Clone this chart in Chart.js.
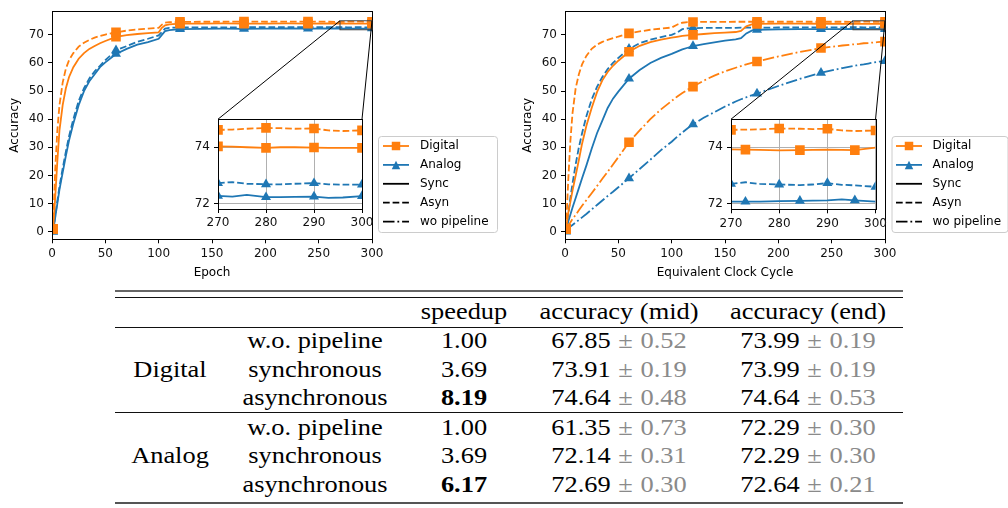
<!DOCTYPE html>
<html><head><meta charset="utf-8">
<script src="https://cdn.jsdelivr.net/npm/chart.js@4.4.1/dist/chart.umd.min.js"></script>
<style>
html,body{margin:0;padding:0;background:#fff;}
#wrap{position:relative;width:1008px;height:508px;overflow:hidden;background:#fff;}
#wrap canvas{position:absolute;}
.tb{position:absolute;font-family:"Liberation Serif","Times New Roman",serif;font-size:24px;line-height:1;color:#000;white-space:nowrap;transform:translateX(-50%) scaleX(1.1);transform-origin:50% 50%;}
.g{color:#8a8a8a;}
.pm{margin:0 1px;}
.rule{position:absolute;left:115px;width:788px;}
</style></head>
<body><div id="wrap">
<canvas id="mainL" width="505" height="290" style="left:0px;top:0px;width:505px;height:290px"></canvas>
<canvas id="mainR" width="503" height="290" style="left:505px;top:0px;width:503px;height:290px"></canvas>
<canvas id="insL" width="190" height="130" style="left:188px;top:108px;width:190px;height:130px"></canvas>
<canvas id="insR" width="190" height="130" style="left:700px;top:108px;width:190px;height:130px"></canvas>
<div id="table"></div>
</div>
<script>
// ---------------- data ----------------
const EPOCH = [1,3,5,7,10,13,16,20,25,30,35,40,45,50,60,70,80,90,100,103,106,110,120,140,160,180,200,220,240,260,270,273,276,280,283,286,290,293,296,300];
const DIG_SYNC_EP = [1,12,25,36,45,51,55,58.5,61.5,63.5,65,66,67,67.8,69.3,69.9,70.3,70.6,70.9,72.5,73.4,73.7,74.0,74.0,74.05,74.0,74.0,74.05,74.0,74.02,74.03,74.02,74.0,73.98,74.0,74.0,73.99,73.98,73.98,73.98];
const DIG_ASYN_EP = [1,22,36,45,53,58,61,63.5,65.8,67.2,68.2,69,69.6,70.1,70.9,71.5,71.9,72.2,72.5,73.6,74.3,74.5,74.6,74.65,74.65,74.7,74.65,74.7,74.7,74.65,74.62,74.63,74.66,74.69,74.68,74.66,74.67,74.6,74.58,74.6];
const ANA_SYNC_EP = [0,5,10,15,21,27,32.5,38.5,45,50,53.5,56,58.5,60.2,63.2,65,66.5,67.4,68.6,70,71.3,71.7,72.0,72.1,72.2,72.15,72.2,72.25,72.2,72.25,72.27,72.24,72.3,72.22,72.22,72.23,72.24,72.2,72.21,72.26];
const ANA_ASYN_EP = [0,5.5,11,16,22.5,28.5,34,40,46.5,51,54.5,57,59,61,64.5,66,67.5,68.6,69.8,71,72.2,72.5,72.6,72.65,72.65,72.7,72.7,72.7,72.72,72.7,72.72,72.76,72.7,72.68,72.68,72.7,72.72,72.68,72.67,72.67];

const CYCLE = [1,3,5,7,10,13,16,20,25,30,35,40,45,50,60,70,80,90,100,105,110,115,120,130,140,150,160,165,170,175,180,200,220,240,260,270,273,276,280,284.3,287,290,293,295.7,300];
const DIG_SYNC_CY = [1,6.6,10.5,14.5,20,25.5,31.3,37.6,44,49.6,53.8,56.8,59,60.8,64,66.1,67.4,68.3,69,69.3,69.6,69.8,70,70.3,70.6,70.8,71,71.4,73,73.7,73.9,73.95,73.95,73.93,73.92,73.93,73.92,73.91,73.89,73.9,73.91,73.92,73.91,73.9,73.99];
const DIG_ASYN_CY = [1,18,32,42,51,56,59.5,62.5,65,66.5,67.5,68.2,68.8,69.4,70.5,71.2,71.8,72.2,72.6,73.6,74.3,74.5,74.55,74.6,74.6,74.62,74.65,74.65,74.65,74.65,74.66,74.65,74.66,74.65,74.65,74.62,74.63,74.64,74.67,74.66,74.65,74.66,74.6,74.58,74.6];
const DIG_WO_CY = [1,2.2,3.3,4.5,6,7.6,9.2,11.2,13.7,16.2,18.8,21.3,23.9,26.5,31.8,36,40,43.5,46.5,48,49.3,50.5,51.6,53.7,55.5,57,58.3,58.9,59.5,60,60.5,62.3,63.9,65.3,66.2,66.6,66.7,66.8,67,67.1,67.2,67.3,67.4,67.5,67.6];
const ANA_SYNC_CY = [0,3.5,6,8.5,12,15.5,19,23.5,29.5,35,39.5,44,47.3,49.8,54.4,57.5,60,61.8,63.2,64,64.8,65.4,66,66.7,67.3,67.9,68.4,68.8,70.5,71.5,71.8,71.95,72.0,72.0,72.05,72.07,72.07,72.07,72.09,72.1,72.11,72.12,72.15,72.12,72.07];
const ANA_ASYN_CY = [0.5,6,12,17,24,30,35,41,47,51.5,55,57.8,60,61.8,65,67,68.3,69.2,70,70.8,72,72.3,72.4,72.45,72.5,72.5,72.5,72.55,72.55,72.55,72.55,72.6,72.6,72.65,72.65,72.7,72.76,72.7,72.68,72.66,72.68,72.73,72.67,72.65,72.6];
const ANA_WO_CY = [0.5,1.2,1.8,2.4,3.3,4.2,5.1,6.3,7.9,9.5,11.1,12.7,14.2,15.8,19,22.3,25.6,29,32,33.7,35.3,36.8,38.2,40.5,42.5,44.5,46.3,47.1,47.8,48.5,49.1,51.8,54.3,56.5,58.2,58.9,59.1,59.3,59.5,59.8,60,60.2,60.4,60.5,60.7];

const MAIN_MARKS = [1,60,120,180,240,300];
const INSET_MARKS_EP = [270,280,290,300];
const INSET_MARKS_ASYN = [270,280,290,300];
const INSET_MARKS_SYNC = [273,284.3,295.7];

const X_TICKS = [0,50,100,150,200,250,300];
const Y_TICKS = [0,10,20,30,40,50,60,70];
const INSET_X = [270,300];
const INSET_Y = [71.8,75];
const INSET_XT = [270,280,290,300];
const INSET_YT = [72,74];

const LEGEND_LABELS = ['Digital','Analog','Sync','Asyn','wo pipeline'];

const GROUPS = ['Digital','Analog'];
const METHODS = ['w.o. pipeline','synchronous','asynchronous'];
const HEADERS = ['speedup','accuracy (mid)','accuracy (end)'];
const SPEEDUP = [['1.00','3.69','8.19'],['1.00','3.69','6.17']];
const MID_MEAN = [['67.85','73.91','74.64'],['61.35','72.14','72.69']];
const MID_STD = [['0.52','0.19','0.48'],['0.73','0.31','0.30']];
const END_MEAN = [['73.99','73.99','74.64'],['72.29','72.29','72.64']];
const END_STD = [['0.19','0.19','0.53'],['0.30','0.30','0.21']];

// ---------------- styles ----------------
const ORANGE = '#ff7f0e', BLUE = '#1f77b4';
const SOLID = [], DASH = [6.7,2.9], DASHDOT = [11.5,2.9,1.8,2.9];
const FONT = {family:'DejaVu Sans', size:12};
const LW = 1.8;
const LEGEND_STYLE = [
  {color:ORANGE, dash:SOLID, marker:'rect'},
  {color:BLUE, dash:SOLID, marker:'triangle'},
  {color:'#000', dash:SOLID},
  {color:'#000', dash:DASH},
  {color:'#000', dash:DASHDOT}
];

function pts(xs, ys){ return xs.map((x,i)=>({x:x, y:ys[i]})); }
function ds(xs, ys, color, dash, style, marks){
  const set = new Set(marks);
  const r = style==='rect' ? 6.8 : 5.8;
  return {
    data: pts(xs, ys), borderColor: color, backgroundColor: color, borderWidth: LW,
    borderDash: dash, tension: 0, fill: false,
    pointStyle: style,
    pointRadius: c => set.has(xs[c.dataIndex]) ? r : 0,
    pointHoverRadius: 0, pointBorderWidth: 0,
    pointBackgroundColor: color, pointBorderColor: color
  };
}

function drawMarker(ctx, style, x, y, color, s){
  ctx.fillStyle = color; ctx.beginPath();
  if(style==='rect'){ ctx.rect(x-s/2, y-s/2, s, s); }
  else { ctx.moveTo(x, y-s/2); ctx.lineTo(x+s/2, y+s/2); ctx.lineTo(x-s/2, y+s/2); ctx.closePath(); }
  ctx.fill();
}

const framePlugin = {id:'frame', afterDatasetsDraw(chart){
  const a = chart.chartArea, ctx = chart.ctx;
  ctx.save(); ctx.lineWidth = 1; ctx.strokeStyle = '#000'; ctx.setLineDash([]);
  ctx.strokeRect(Math.round(a.left)+0.5, Math.round(a.top)+0.5, Math.round(a.right-a.left), Math.round(a.bottom-a.top));
  ctx.restore();
}};
const bgPlugin = {id:'bg', beforeDraw(chart){
  const a = chart.chartArea, ctx = chart.ctx;
  ctx.save(); ctx.fillStyle = '#fff'; ctx.fillRect(a.left, a.top, a.right-a.left, a.bottom-a.top); ctx.restore();
}};

function legendPlugin(b){
  return {id:'legendBox', afterDraw(chart){
    const ctx = chart.ctx; ctx.save();
    ctx.beginPath();
    if(ctx.roundRect) ctx.roundRect(b.x+0.5, b.y+0.5, b.w, b.h, 3); else ctx.rect(b.x+0.5, b.y+0.5, b.w, b.h);
    ctx.fillStyle = 'rgba(255,255,255,0.8)'; ctx.fill();
    ctx.strokeStyle = '#cccccc'; ctx.lineWidth = 1; ctx.stroke();
    LEGEND_LABELS.forEach((lab, i) => {
      const y = b.y + b.first + i*b.step, st = LEGEND_STYLE[i];
      ctx.beginPath(); ctx.setLineDash(st.dash); ctx.strokeStyle = st.color; ctx.lineWidth = LW;
      ctx.moveTo(b.hx, y); ctx.lineTo(b.hx + b.hl, y); ctx.stroke(); ctx.setLineDash([]);
      if(st.marker) drawMarker(ctx, st.marker, b.hx + b.hl/2, y, st.color, 8.5);
      ctx.fillStyle = '#000'; ctx.font = '12px "DejaVu Sans"'; ctx.textBaseline = 'middle'; ctx.textAlign = 'left';
      ctx.fillText(lab, b.tx, y);
    });
    ctx.restore();
  }};
}

function insetMarkPlugin(inset, dx, dy){
  return {id:'insetMark', afterDatasetsDraw(chart){
    const xs = chart.scales.x, ys = chart.scales.y, ctx = chart.ctx;
    const x0 = xs.getPixelForValue(INSET_X[0]), x1 = xs.getPixelForValue(INSET_X[1]);
    const yT = ys.getPixelForValue(INSET_Y[1]), yB = ys.getPixelForValue(INSET_Y[0]);
    const ia = inset.chartArea;
    ctx.save(); ctx.setLineDash([]); ctx.lineWidth = 1;
    ctx.strokeStyle = '#444'; ctx.strokeRect(x0, yT, x1-x0, yB-yT);
    ctx.strokeStyle = '#000'; ctx.beginPath();
    ctx.moveTo(x0, yT); ctx.lineTo(ia.left + dx, ia.top + dy);
    ctx.moveTo(x1, yT); ctx.lineTo(ia.right + dx, ia.top + dy);
    ctx.stroke(); ctx.restore();
  }};
}

function axisBase(ticks, min, max){
  return {
    type:'linear', min:min, max:max,
    afterBuildTicks: s => { s.ticks = ticks.map(v => ({value:v})); },
    ticks:{font:FONT, color:'#111', padding:3, maxRotation:0, autoSkip:false},
    border:{color:'#000', width:1}
  };
}

function makeInset(id, W, H, area, datasets){
  const x = axisBase(INSET_XT, INSET_X[0], INSET_X[1]);
  x.afterFit = s => { s.height = H - area.b; };
  x.grid = {color:'#b0b0b0', lineWidth:1, tickColor:'#000', tickLength:4};
  const y = axisBase(INSET_YT, INSET_Y[0], INSET_Y[1]);
  y.afterFit = s => { s.width = area.l; };
  y.grid = {color:'#b0b0b0', lineWidth:1, tickColor:'#000', tickLength:4};
  y.ticks.padding = 4;
  return new Chart(document.getElementById(id), {
    type:'line', data:{datasets:datasets},
    options:{responsive:false, animation:false, devicePixelRatio:1, events:[],
      layout:{padding:{left:0, right:W-area.r, top:area.t, bottom:0}},
      plugins:{legend:{display:false}, tooltip:{enabled:false}},
      scales:{x:x, y:y}},
    plugins:[bgPlugin, framePlugin]
  });
}

function makeMain(id, W, H, area, datasets, xTitle, yTitlePad, inset, dx, dy, lg){
  const x = axisBase(X_TICKS, 0, 300);
  x.afterFit = s => { s.height = H - area.b; };
  x.grid = {drawOnChartArea:false, tickLength:4, color:'#000', tickColor:'#000'};
  x.title = {display:true, text:xTitle, font:FONT, color:'#000', padding:{top:0, bottom:9.5}};
  const y = axisBase(Y_TICKS, -2.7, 78.4);
  y.afterFit = s => { s.width = area.l; };
  y.grid = {drawOnChartArea:false, tickLength:4, color:'#000', tickColor:'#000'};
  y.ticks.padding = 4;
  y.title = {display:true, text:'Accuracy', font:FONT, color:'#000', padding:{top:yTitlePad, bottom:0}};
  return new Chart(document.getElementById(id), {
    type:'line', data:{datasets:datasets},
    options:{responsive:false, animation:false, devicePixelRatio:1, events:[],
      layout:{padding:{left:0, right:W-area.r, top:area.t, bottom:0}},
      plugins:{legend:{display:false}, tooltip:{enabled:false}},
      scales:{x:x, y:y}},
    plugins:[framePlugin, insetMarkPlugin(inset, dx, dy), legendPlugin(lg)]
  });
}

// ---------------- left (epoch) ----------------
const insL = makeInset('insL', 190, 130, {l:30, r:174, t:5, b:101}, [
  ds(EPOCH, DIG_SYNC_EP, ORANGE, SOLID, 'rect', INSET_MARKS_EP),
  ds(EPOCH, DIG_ASYN_EP, ORANGE, DASH, 'rect', INSET_MARKS_EP),
  ds(EPOCH, ANA_SYNC_EP, BLUE, SOLID, 'triangle', INSET_MARKS_EP),
  ds(EPOCH, ANA_ASYN_EP, BLUE, DASH, 'triangle', INSET_MARKS_EP)
]);
makeMain('mainL', 505, 290, {l:52, r:372, t:1, b:239.3}, [
  ds(EPOCH, DIG_SYNC_EP, ORANGE, SOLID, 'rect', MAIN_MARKS),
  ds(EPOCH, DIG_ASYN_EP, ORANGE, DASH, 'rect', MAIN_MARKS),
  ds(EPOCH, ANA_SYNC_EP, BLUE, SOLID, 'triangle', MAIN_MARKS),
  ds(EPOCH, ANA_ASYN_EP, BLUE, DASH, 'triangle', MAIN_MARKS)
], 'Epoch', 8, insL, 188, 108,
  {x:378, y:136, w:119, h:96, hx:383, hl:26, tx:420, first:10, step:18.9});

// ---------------- right (clock cycle) ----------------
const insR = makeInset('insR', 190, 130, {l:31, r:176, t:6, b:101.3}, [
  ds(CYCLE, DIG_SYNC_CY, ORANGE, SOLID, 'rect', INSET_MARKS_SYNC),
  ds(CYCLE, DIG_ASYN_CY, ORANGE, DASH, 'rect', INSET_MARKS_ASYN),
  ds(CYCLE, ANA_SYNC_CY, BLUE, SOLID, 'triangle', INSET_MARKS_SYNC),
  ds(CYCLE, ANA_ASYN_CY, BLUE, DASH, 'triangle', INSET_MARKS_ASYN)
]);
makeMain('mainR', 503, 290, {l:60, r:380, t:1, b:239.3}, [
  ds(CYCLE, DIG_SYNC_CY, ORANGE, SOLID, 'rect', MAIN_MARKS),
  ds(CYCLE, DIG_ASYN_CY, ORANGE, DASH, 'rect', MAIN_MARKS),
  ds(CYCLE, DIG_WO_CY, ORANGE, DASHDOT, 'rect', MAIN_MARKS),
  ds(CYCLE, ANA_SYNC_CY, BLUE, SOLID, 'triangle', MAIN_MARKS),
  ds(CYCLE, ANA_ASYN_CY, BLUE, DASH, 'triangle', MAIN_MARKS),
  ds(CYCLE, ANA_WO_CY, BLUE, DASHDOT, 'triangle', MAIN_MARKS)
], 'Equivalent Clock Cycle', 16, insR, 700-505, 108,
  {x:386.5, y:136, w:116, h:96, hx:391, hl:26, tx:427.5, first:10, step:18.9});

// ---------------- table ----------------
const tbl = document.getElementById('table');
const COLX = [170, 315, 464, 619, 808];
const HEAD_BASE = 319;
const ROW_BASE = [[348.4,376.7,405],[435.1,463.4,491.7]];
const ASC = 20.1; // baseline offset within a 24px line box
function put(html, cx, base){
  const d = document.createElement('div'); d.className = 'tb';
  d.style.left = cx + 'px'; d.style.top = (base - ASC) + 'px'; d.innerHTML = html; tbl.appendChild(d);
}
function rule(top, h, color){
  const d = document.createElement('div'); d.className = 'rule';
  d.style.top = top + 'px'; d.style.height = h + 'px'; d.style.background = color; tbl.appendChild(d);
}
rule(289.5, 2, '#666'); rule(296.5, 1.3, '#111'); rule(326.7, 1.3, '#111'); rule(412.2, 1.3, '#111'); rule(501.8, 2.5, '#555');
HEADERS.forEach((h, j) => put(h, COLX[j+2], HEAD_BASE));
GROUPS.forEach((g, gi) => {
  put(g, COLX[0], ROW_BASE[gi][1]);
  const maxS = Math.max(...SPEEDUP[gi].map(Number));
  METHODS.forEach((m, mi) => {
    const b = ROW_BASE[gi][mi];
    put(m, COLX[1], b);
    const s = SPEEDUP[gi][mi];
    put(Number(s) === maxS ? '<b>' + s + '</b>' : s, COLX[2], b);
    put(MID_MEAN[gi][mi] + ' <span class="g"><span class="pm">\u00b1</span> ' + MID_STD[gi][mi] + '</span>', COLX[3], b);
    put(END_MEAN[gi][mi] + ' <span class="g"><span class="pm">\u00b1</span> ' + END_STD[gi][mi] + '</span>', COLX[4], b);
  });
});
</script></body></html>
